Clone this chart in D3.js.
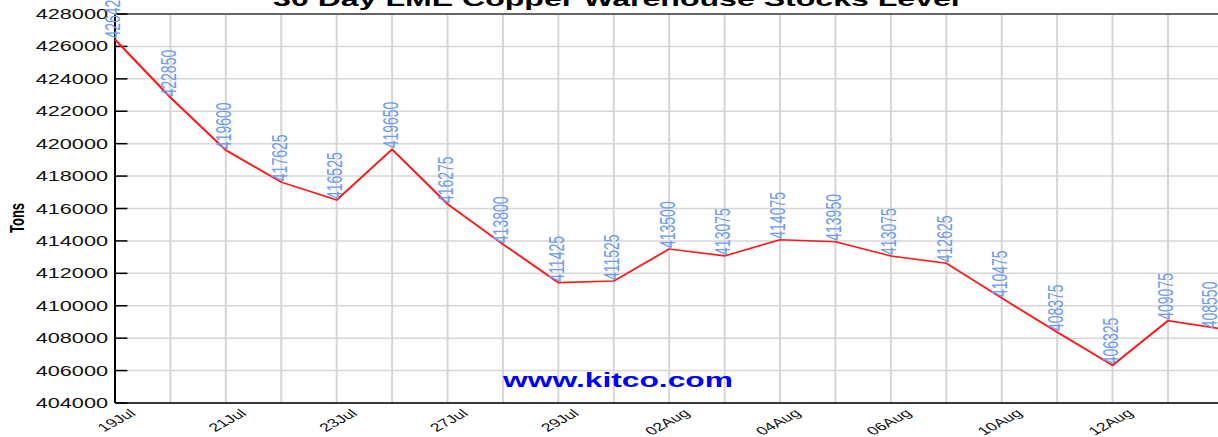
<!DOCTYPE html>
<html><head><meta charset="utf-8">
<script src="https://cdn.jsdelivr.net/npm/d3@7"></script>
<style>html,body{margin:0;padding:0;background:#fff;overflow:hidden}</style>
</head><body><svg id="c" width="1218" height="437"></svg>
<script>
const dates = ["19Jul","20Jul","21Jul","22Jul","23Jul","26Jul","27Jul","28Jul","29Jul","30Jul",
  "02Aug","03Aug","04Aug","05Aug","06Aug","09Aug","10Aug","11Aug","12Aug","13Aug","16Aug"];
const stocks = [426425,422850,419600,417625,416525,419650,416275,413800,411425,411525,
  413500,413075,414075,413950,413075,412625,410475,408375,406325,409075,408550];
const xTickLabels = ["19Jul","21Jul","23Jul","27Jul","29Jul","02Aug","04Aug","06Aug","10Aug","12Aug"];
const yTickValues = [404000,406000,408000,410000,412000,414000,416000,418000,420000,422000,424000,426000,428000];
const titleText = "30 Day LME Copper Warehouse Stocks Level";
const yTitle = "Tons";
const watermark = "www.kitco.com";

const SX = 1.55;                 // horizontal stretch of the picture
const W = 1218 / SX;
const plotLeft = 115 / SX, step = 55.42 / SX;
const plotTop = 14, plotBottom = 403;
const FONT = "Arial, 'Liberation Sans', sans-serif";

const svg = d3.select("#c");
const g = svg.append("g").attr("transform", `scale(${SX},1)`);

const x = d3.scalePoint().domain(dates).range([plotLeft, plotLeft + step * (dates.length - 1)]);
const y = d3.scaleLinear().domain([404000, 428000]).range([plotBottom, plotTop]);

// grid
g.append("g").selectAll("line").data(yTickValues).join("line")
  .attr("x1", plotLeft).attr("x2", W + 10).attr("y1", d => y(d)).attr("y2", d => y(d))
  .attr("stroke", "#d6d6d6").attr("stroke-width", 1.5);
g.append("g").selectAll("line").data(dates).join("line")
  .attr("x1", d => x(d)).attr("x2", d => x(d)).attr("y1", plotTop).attr("y2", plotBottom)
  .attr("stroke", "#d6d6d6").attr("stroke-width", 1.3);

// frame
g.append("line").attr("x1", plotLeft).attr("x2", W + 10).attr("y1", plotTop).attr("y2", plotTop)
  .attr("stroke", "#666").attr("stroke-width", 2);
g.append("line").attr("x1", plotLeft).attr("x2", W + 10).attr("y1", plotBottom).attr("y2", plotBottom)
  .attr("stroke", "#000").attr("stroke-width", 1.5);
g.append("line").attr("x1", plotLeft).attr("x2", plotLeft).attr("y1", plotTop).attr("y2", plotBottom)
  .attr("stroke", "#000").attr("stroke-width", 1.3);

// y ticks + labels
g.append("g").selectAll("line").data(yTickValues).join("line")
  .attr("x1", plotLeft).attr("x2", plotLeft + 8).attr("y1", d => y(d)).attr("y2", d => y(d))
  .attr("stroke", "#000").attr("stroke-width", 1.5);
g.append("g").selectAll("text").data(yTickValues).join("text")
  .attr("x", plotLeft - 4.5).attr("y", d => y(d)).attr("dy", "0.36em")
  .attr("text-anchor", "end").attr("font-family", FONT).attr("font-size", 14).attr("fill", "#111")
  .text(d => d3.format("d")(d));

// x tick labels
g.append("g").selectAll("text").data(xTickLabels).join("text")
  .attr("transform", d => `translate(${x(d) + 14},414.5) rotate(-40)`)
  .attr("text-anchor", "end")
  .attr("font-family", FONT).attr("font-size", 11.5).attr("fill", "#111")
  .text(d => d);

// watermark
g.append("text").attr("x", 398.7).attr("y", 387).attr("text-anchor", "middle")
  .attr("font-family", FONT).attr("font-weight", "bold").attr("font-size", 20.5)
  .attr("fill", "#0000ff").text(watermark);

// line
const pts = dates.map((d, i) => [x(d), y(stocks[i])]);
g.append("path").attr("d", d3.line()(pts)).attr("fill", "none")
  .attr("stroke", "#ff1a1a").attr("stroke-width", 1.6).attr("stroke-linejoin", "miter");

// data labels
g.append("g").selectAll("text").data(dates).join("text")
  .attr("transform", (d, i) => `translate(${Math.min(x(d) + 3.5, W - 0.6)},${y(stocks[i]) - 1}) rotate(-90)`)
  .attr("text-anchor", "start").attr("font-family", FONT).attr("font-size", 14)
  .attr("fill", "#6e9cf0").text((d, i) => stocks[i]);

// y title
g.append("text").attr("transform", `translate(11,218) rotate(-90)`)
  .attr("text-anchor", "middle").attr("dy", "0.35em")
  .attr("font-family", FONT).attr("font-weight", "bold").attr("font-size", 13).attr("fill", "#000")
  .text(yTitle);

// title
const t = g.append("text").attr("x", 397.7).attr("y", 6).attr("text-anchor", "middle")
  .attr("font-family", FONT).attr("font-weight", "bold").attr("font-size", 18).attr("fill", "#000")
  .text(titleText);
const len = t.node().getComputedTextLength();
t.attr("font-size", 18 * 443 / len);
</script></body></html>
